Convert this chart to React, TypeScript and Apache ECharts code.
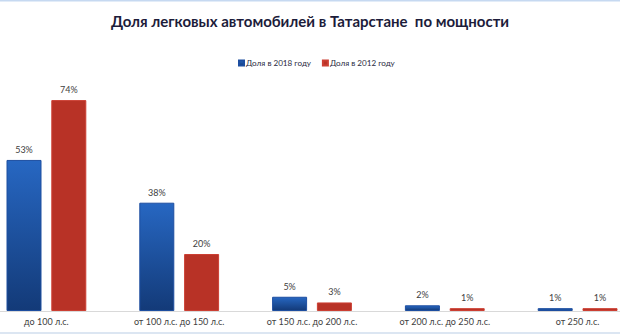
import React, { useEffect, useRef } from "react";
import * as echarts from "echarts";

const categories = [
  "до 100 л.с.",
  "от 100 л.с. до 150 л.с.",
  "от 150 л.с. до 200 л.с.",
  "от 200 л.с. до 250 л.с.",
  "от 250 л.с.",
];
const share2018 = [53, 38, 5, 2, 1];
const share2012 = [74, 20, 3, 1, 1];
const seriesNames = ["Доля в 2018 году", "Доля в 2012 году"];

export default function App() {
  const ref = useRef<HTMLDivElement>(null);
  useEffect(() => {
    if (!ref.current) return;
    const chart = echarts.init(ref.current, undefined, { renderer: "svg" });
    const font = "Lato, 'Open Sans', sans-serif";
    const labelCfg = {
      show: true,
      position: "top",
      distance: 6,
      formatter: "{c}%",
      color: "#404040",
      fontSize: 9,
      fontFamily: font,
    };
    chart.setOption({
      animation: false,
      backgroundColor: "#ffffff",
      title: {
        text: "Доля легковых автомобилей в Татарстане  по мощности",
        left: "center",
        top: 8,
        textStyle: {
          fontFamily: font,
          fontSize: 15,
          fontWeight: "bold",
          color: "#1c1c3a",
        },
      },
      legend: {
        left: 233,
        top: 54,
        itemWidth: 5,
        itemHeight: 5,
        itemGap: 11,
        icon: "rect",
        textStyle: { fontFamily: font, fontSize: 8.1, color: "#2a2a40", padding: [0, 0, 0, -3] },
        data: seriesNames,
      },
      graphic: [
        { type: "rect", shape: { x: 0, y: 0, width: 620, height: 1.5 }, style: { fill: "#c6d9f1" } },
        { type: "rect", shape: { x: 0, y: 332, width: 620, height: 2 }, style: { fill: "#dce6f2" } },
      ],
      grid: { left: -20, right: -24, top: 26, bottom: 23, outerBoundsMode: "none", containLabel: false },
      xAxis: {
        type: "category",
        data: categories,
        axisTick: { show: false },
        axisLine: { lineStyle: { color: "#d9d9d9" } },
        axisLabel: {
          fontFamily: font,
          fontSize: 9,
          color: "#404040",
          margin: 6,
          interval: 0,
        },
      },
      yAxis: {
        type: "value",
        min: 0,
        max: 100,
        show: false,
        splitLine: { show: false },
      },
      series: [
        {
          name: seriesNames[0],
          type: "bar",
          data: share2018,
          barWidth: 35,
          barGap: "28%",
          itemStyle: {
            color: new echarts.graphic.LinearGradient(0, 0, 0, 1, [
              { offset: 0, color: "#2767c2" },
              { offset: 1, color: "#133a78" },
            ]),
            borderColor: "#1d4ea0",
            borderWidth: 1,
          },
          label: labelCfg,
        },
        {
          name: seriesNames[1],
          type: "bar",
          data: share2012,
          barWidth: 35,
          itemStyle: {
            color: "#b83226",
            borderColor: "#cc3f33",
            borderWidth: 1,
          },
          label: labelCfg,
        },
      ],
    });
    return () => chart.dispose();
  }, []);
  return (
    <div
      ref={ref}
      style={{ position: "fixed", left: 0, top: 0, width: 620, height: 334 }}
    />
  );
}
